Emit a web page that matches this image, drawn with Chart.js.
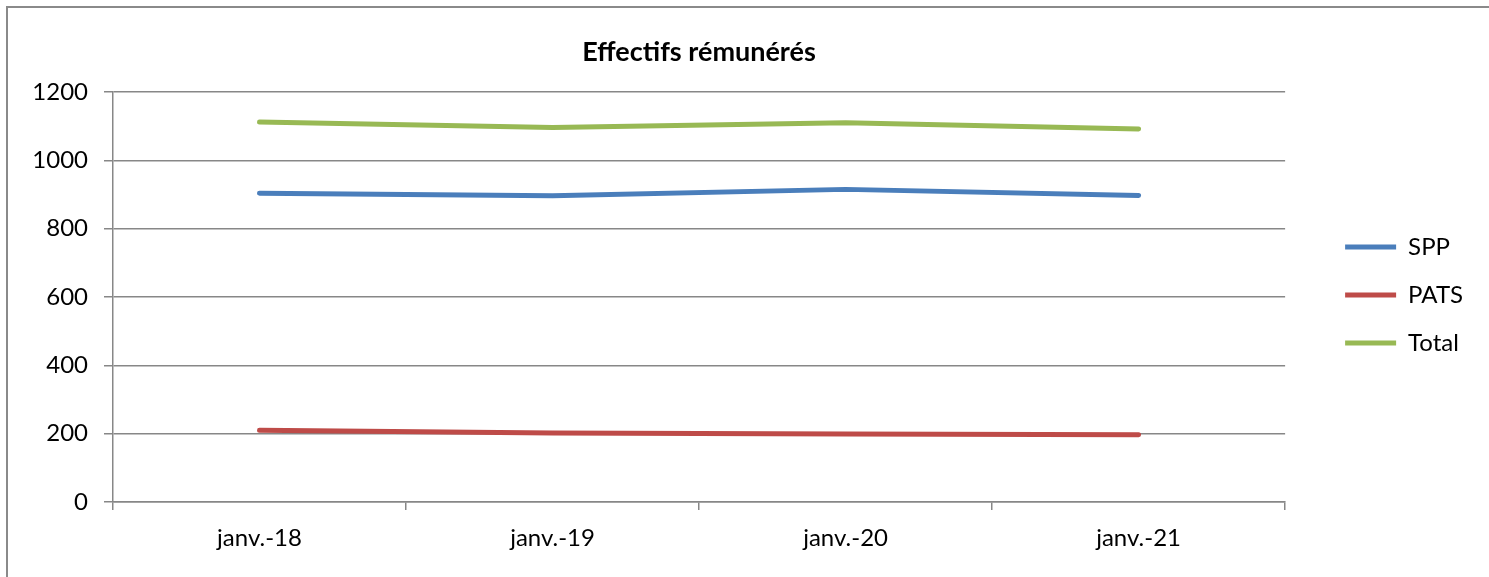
<!DOCTYPE html>
<html lang="fr">
<head>
<meta charset="utf-8">
<title>Effectifs rémunérés</title>
<script src="https://cdn.jsdelivr.net/npm/chart.js@4"></script>
<style>
  html, body { margin: 0; padding: 0; background: #fff; overflow: hidden; }
  #wrap { position: relative; width: 1489px; height: 577px; }
  #frame { position: absolute; left: 6px; top: 6px; width: 1600px; height: 700px;
           border: 2px solid #8a8a8a; box-sizing: border-box; pointer-events: none; }
  #box { position: absolute; left: 0; top: 0; width: 1489px; height: 577px; }
</style>
</head>
<body>
<div id="wrap">
  <div id="box"><canvas id="chart"></canvas></div>
  <div id="frame"></div>
</div>
<script>
// Categories (January of each year)
const categories = ['janv.-18', 'janv.-19', 'janv.-20', 'janv.-21'];

// Paid staff counts per category
const sppValues   = [904, 896, 915, 897];
const patsValues  = [210, 202, 199, 197];
const totalValues = [1112, 1096, 1110, 1092];

// Y axis ticks
const yTicks = [0, 200, 400, 600, 800, 1000, 1200];

const FONT = 'Lato, "Liberation Sans", sans-serif';
const GRID = '#878787';

function series(label, data, color) {
  return {
    label, data,
    borderColor: color, backgroundColor: color,
    borderWidth: 5, borderCapStyle: 'round', borderJoinStyle: 'round',
    pointRadius: 0, pointHoverRadius: 0, tension: 0, fill: false
  };
}

// Moves the legend block away from the plot, into the right margin
const legendOffset = {
  id: 'legendOffset',
  afterLayout(chart) {
    const lg = chart.legend;
    if (!lg) return;
    const dx = 36, dy = -2;
    lg.left += dx; lg.right += dx;
    lg.top += dy; lg.bottom += dy;
  }
};

new Chart(document.getElementById('chart'), {
  type: 'line',
  data: {
    labels: categories,
    datasets: [
      series('SPP', sppValues, '#4a7ebb'),
      series('PATS', patsValues, '#be4b48'),
      series('Total', totalValues, '#98b954')
    ]
  },
  plugins: [legendOffset],
  options: {
    responsive: true,
    maintainAspectRatio: false,
    animation: false,
    layout: { padding: { left: 13, top: 0, right: 52, bottom: 0 } },
    font: { family: FONT },
    plugins: {
      title: {
        display: true,
        text: 'Effectifs rémunérés',
        fullSize: false,
        color: '#000',
        font: { family: FONT, size: 27, weight: 'bold' },
        padding: { top: 36, bottom: 23.6 }
      },
      legend: {
        position: 'right',
        fullSize: false,
        labels: {
          usePointStyle: true,
          pointStyle: 'line',
          pointStyleWidth: 51,
          color: '#000',
          font: { family: FONT, size: 24 },
          padding: 24
        }
      },
      tooltip: { enabled: false }
    },
    scales: {
      x: {
        type: 'category',
        offset: true,
        grid: { display: true, drawOnChartArea: false, drawTicks: true, offset: true,
                tickLength: 8, color: GRID, lineWidth: 1.5 },
        border: { display: true, color: GRID, width: 1.5 },
        ticks: { color: '#000', font: { family: FONT, size: 24 }, padding: 14, maxRotation: 0 },
        afterFit: (s) => { s.height = 75; }
      },
      y: {
        min: 0, max: 1200,
        afterBuildTicks: (s) => { s.ticks = yTicks.map(v => ({ value: v })); },
        grid: { color: GRID, lineWidth: 1.5, tickLength: 9, drawTicks: true },
        border: { display: true, color: GRID, width: 1.5 },
        ticks: { color: '#000', font: { family: FONT, size: 24 }, padding: 16,
                 callback: (v) => String(v) },
        afterFit: (s) => { s.width = 100; }
      }
    }
  }
});
</script>
</body>
</html>
